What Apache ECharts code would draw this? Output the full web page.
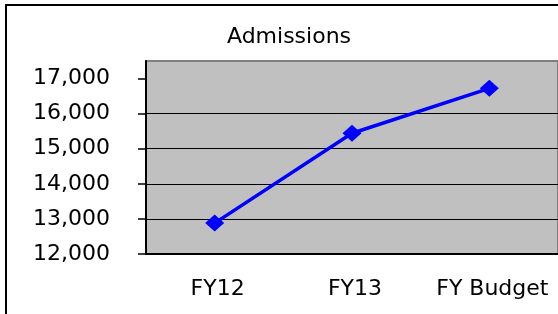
<!DOCTYPE html>
<html>
<head>
<meta charset="utf-8">
<script src="https://cdn.jsdelivr.net/npm/echarts@6/dist/echarts.min.js"></script>
<style>
  html, body { margin: 0; padding: 0; background: #fff; }
  #chart { width: 558px; height: 314px; }
</style>
</head>
<body>
<div id="chart"></div>
<script>
// data
const categories = ['FY12', 'FY13', 'FY Budget'];
const admissions = [12880, 15440, 16720];
const yTicks = [12000, 13000, 14000, 15000, 16000, 17000];

const font = 'DejaVu Sans';
const chart = echarts.init(document.getElementById('chart'), null, { renderer: 'canvas' });

chart.setOption({
  animation: false,
  title: {
    text: 'Admissions',
    left: 289,
    textAlign: 'center',
    top: 26,
    padding: 0,
    textStyle: { fontFamily: font, fontSize: 22, fontWeight: 'normal', color: '#000' }
  },
  graphic: [{                                  // outer chart border
    type: 'rect',
    z: -10,
    shape: { x: 6, y: 5, width: 600, height: 400 },
    style: { fill: '#fff', stroke: '#000', lineWidth: 2 }
  }],
  grid: {
    left: 146,
    top: 61,
    bottom: 60,
    right: -4,
    show: true,
    backgroundColor: '#c0c0c0',
    borderColor: '#808080',
    borderWidth: 2
  },
  xAxis: {
    type: 'category',
    data: categories,
    boundaryGap: true,
    axisLine: { lineStyle: { color: '#000', width: 2 } },
    axisTick: { length: 5, lineStyle: { color: '#000', width: 1.5 } },
    axisLabel: {
      interval: 0,
      hideOverlap: false,
      margin: 24,
      color: '#000',
      fontFamily: font,
      fontSize: 22,
      padding: [0, 0, 0, 6]
    },
    splitLine: { show: false }
  },
  yAxis: {
    type: 'value',
    min: 12000,
    max: 17500,
    interval: 1000,
    axisLine: { show: true, lineStyle: { color: '#000', width: 2 } },
    axisTick: { show: true, length: 8, customValues: yTicks, lineStyle: { color: '#000', width: 1.5 } },
    axisLabel: {
      customValues: yTicks,
      margin: 36,
      color: '#000',
      fontFamily: font,
      fontSize: 22,
      padding: [6, 0, 0, 0],
      formatter: v => v.toLocaleString('en-US')
    },
    splitLine: { show: true, showMaxLine: false, lineStyle: { color: '#000', width: 1.2 } }
  },
  series: [{
    type: 'line',
    data: admissions,
    color: '#0000ff',
    lineStyle: { width: 3.5 },
    symbol: 'diamond',
    symbolSize: [19, 17],
    itemStyle: { color: '#0000ff' }
  }]
});
</script>
</body>
</html>
